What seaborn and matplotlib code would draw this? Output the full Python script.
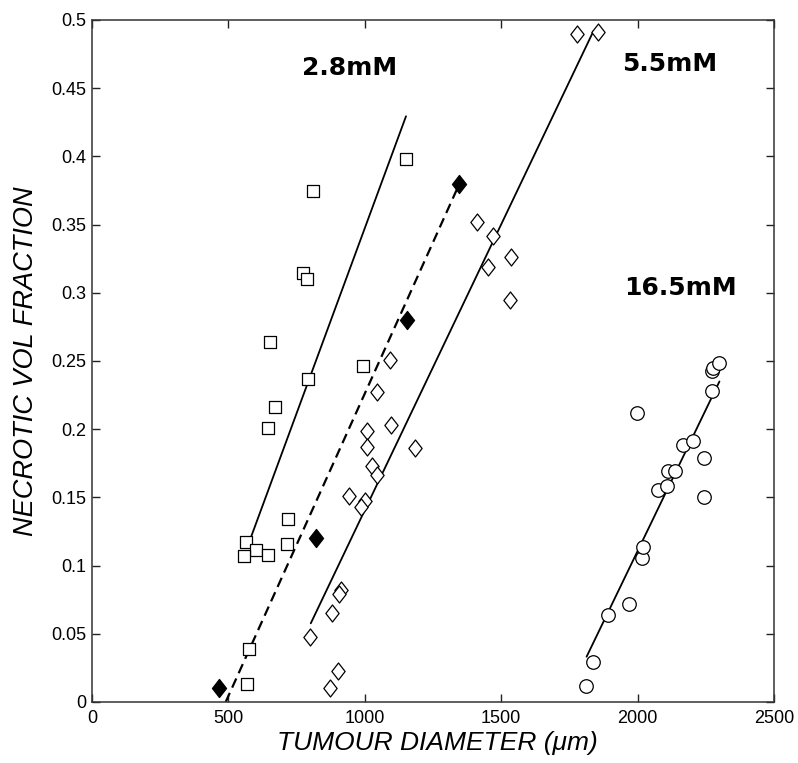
import numpy as np
import pandas as pd
import matplotlib
matplotlib.use('Agg')
import matplotlib.pyplot as plt
import seaborn as sns
from matplotlib.path import Path
from matplotlib.ticker import MultipleLocator, FuncFormatter

# data (diameter in um, necrotic volume fraction)
sq_x = [1151, 811, 772, 789, 652, 995, 793, 671, 644, 720, 565, 716, 601, 646, 557, 577, 569]
sq_y = [0.398, 0.375, 0.3145, 0.310, 0.264, 0.246, 0.237, 0.216, 0.201, 0.134, 0.117, 0.116,
        0.1115, 0.108, 0.107, 0.0387, 0.0133]

dia_x = [1777, 1854, 1410, 1469, 1453, 1535, 1532, 1092, 1046, 1095, 1009, 1009, 1184, 1026,
         1044, 943, 1001, 985, 913, 907, 879, 799, 903, 872]
dia_y = [0.490, 0.491, 0.352, 0.342, 0.319, 0.326, 0.295, 0.251, 0.227, 0.203, 0.199, 0.187,
         0.186, 0.173, 0.1665, 0.151, 0.147, 0.143, 0.082, 0.079, 0.0655, 0.048, 0.0227, 0.010]

fdia_x = [465, 821, 1155, 1347]
fdia_y = [0.0105, 0.120, 0.280, 0.380]

circ_x = [1811, 1835, 1893, 1970, 2015, 2021, 1996, 2076, 2106, 2113, 2137, 2168, 2202, 2243,
          2243, 2272, 2272, 2278, 2300]
circ_y = [0.0117, 0.0296, 0.0638, 0.0717, 0.1059, 0.1135, 0.2118, 0.1555, 0.158, 0.169, 0.1697,
          0.1886, 0.1915, 0.1788, 0.150, 0.2282, 0.2428, 0.2448, 0.2485]

# fitted lines (end points)
fit28_x, fit28_y = [572, 1151], [0.115, 0.4294]
fitfd_x, fitfd_y = [490, 1347], [0.0, 0.380]
fit55_x, fit55_y = [802, 1838], [0.0577, 0.4918]
fit165_x, fit165_y = [1813, 2300], [0.0332, 0.235]

labels = ['2.8mM', '5.5mM', '16.5mM']
label_x = [769, 1943, 1950]
label_y = [0.460, 0.4624, 0.2986]

sns.set_style('ticks')
plt.rcParams['font.family'] = ['Liberation Sans', 'DejaVu Sans']
plt.rcParams['text.color'] = 'black'
plt.rcParams['axes.labelcolor'] = 'black'

fig = plt.figure(figsize=(7.98, 7.63), dpi=100)
ax = fig.add_axes([92 / 798, 1 - 702 / 763, 682 / 798, 682 / 763])

# tall diamond like matlab's
tall_dia = Path([(0, -1), (0.78, 0), (0, 1), (-0.78, 0), (0, -1)],
                [Path.MOVETO, Path.LINETO, Path.LINETO, Path.LINETO, Path.CLOSEPOLY])

# fit lines
sns.lineplot(x=fit28_x, y=fit28_y, color='black', lw=1.3, ax=ax)
sns.lineplot(x=fit55_x, y=fit55_y, color='black', lw=1.3, ax=ax)
sns.lineplot(x=fit165_x, y=fit165_y, color='black', lw=1.3, ax=ax)
sns.lineplot(x=fitfd_x, y=fitfd_y, color='black', lw=1.6, ax=ax, dashes=False,
             linestyle=(0, (4.5, 2.6)))

# markers
sns.scatterplot(x=sq_x, y=sq_y, marker='s', s=70, color='white', edgecolor='black',
                linewidth=0.9, ax=ax, zorder=3)
sns.scatterplot(x=dia_x, y=dia_y, marker=tall_dia, s=150, color='white', edgecolor='black',
                linewidth=0.9, ax=ax, zorder=3)
sns.scatterplot(x=fdia_x, y=fdia_y, marker=tall_dia, s=170, color='black', edgecolor='black',
                linewidth=0.9, ax=ax, zorder=3)
sns.scatterplot(x=circ_x, y=circ_y, marker='o', s=95, color='white', edgecolor='black',
                linewidth=0.9, ax=ax, zorder=3)

for t, lx, ly in zip(labels, label_x, label_y):
    ax.text(lx, ly, t, fontsize=18, fontweight='bold', family='DejaVu Sans',
            color='black', ha='left', va='baseline')

ax.set_xlim(0, 2500)
ax.set_ylim(0, 0.5)
ax.xaxis.set_major_locator(MultipleLocator(500))
ax.yaxis.set_major_locator(MultipleLocator(0.05))
ax.yaxis.set_major_formatter(FuncFormatter(lambda v, p: f'{v:g}'))
ax.xaxis.set_major_formatter(FuncFormatter(lambda v, p: f'{v:g}'))

ax.tick_params(direction='in', length=6, width=1, top=True, right=True,
               labelsize=13, colors='#222222', labelcolor='black')
ax.tick_params(axis='x', pad=6)
ax.tick_params(axis='y', pad=4)
for sp in ax.spines.values():
    sp.set_visible(True)
    sp.set_linewidth(1.1)
    sp.set_color('#333333')

ax.set_xlabel('TUMOUR DIAMETER (\u03bcm)', fontsize=19, style='italic')
ax.set_ylabel('NECROTIC VOL FRACTION', fontsize=19.5, style='italic')
ax.xaxis.label.set_verticalalignment('baseline')
ax.xaxis.set_label_coords(0.507, -0.0705)
ax.yaxis.set_label_coords(-0.078, 0.5)

fig.savefig('out.png', dpi=100, facecolor='white')
